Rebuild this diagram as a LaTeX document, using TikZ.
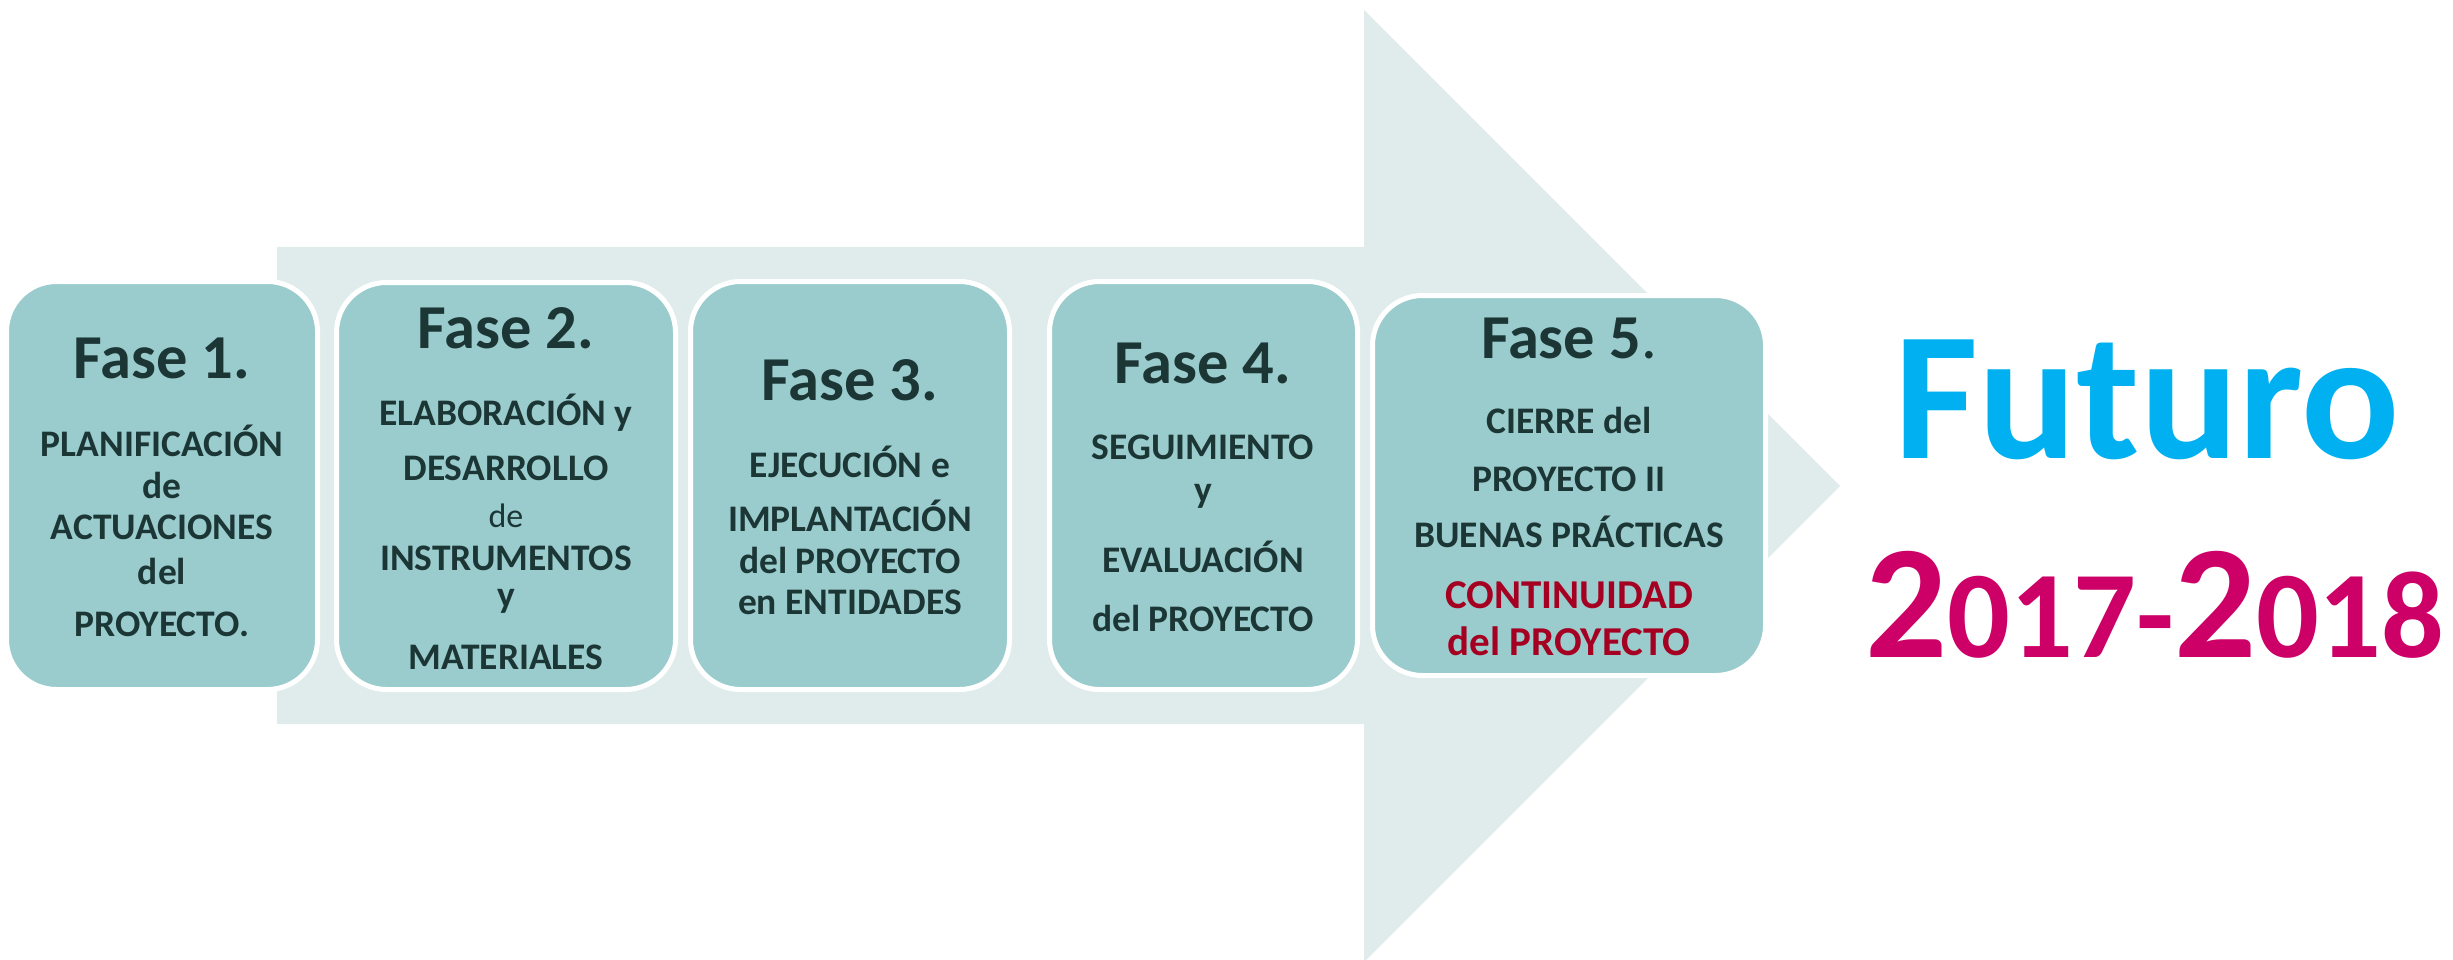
\documentclass[tikz,border=0pt]{standalone}
\usepackage{fontspec}
\setmainfont{Carlito}
\definecolor{shaftc}{RGB}{223,236,235}
\definecolor{boxc}{RGB}{154,204,205}
\definecolor{txtc}{RGB}{28,54,54}
\definecolor{futc}{RGB}{0,176,240}
\definecolor{yearc}{RGB}{204,0,102}
\definecolor{redc}{RGB}{165,0,33}
\tikzset{
  phasebox/.style={draw=white, line width=5pt, fill=boxc, rounded corners=50pt, inner sep=0pt},
  ttl/.style={anchor=base, inner sep=0pt, text=txtc, font=\fontsize{62.5}{62.5}\selectfont\bfseries},
  ln/.style={anchor=base, inner sep=0pt, text=txtc, font=\fontsize{37.5}{37.5}\selectfont\bfseries},
  lnr/.style={anchor=base, inner sep=0pt, text=txtc, font=\fontsize{34}{34}\selectfont},
  lnred/.style={anchor=base, inner sep=0pt, text=redc, font=\fontsize{41}{41}\selectfont\bfseries},
}
\begin{document}
\begin{tikzpicture}[x=1pt,y=-1pt]
\useasboundingbox (0,0) rectangle (2453,960);
% big arrow
\fill[shaftc] (277,247) -- (1364,247) -- (1364,10) -- (1840,486) -- (1366,960) -- (1364,960) -- (1364,724) -- (277,724) -- cycle;
% boxes
\node[phasebox, minimum width=311pt, minimum height=408pt] (b1) at (162,485.5) {};
\node[phasebox, minimum width=339pt, minimum height=407pt] (b2) at (506,486) {};
\node[phasebox, minimum width=319pt, minimum height=408pt] (b3) at (850,485.5) {};
\node[phasebox, minimum width=308pt, minimum height=408pt] (b4) at (1203.5,485.5) {};
\node[phasebox, minimum width=393pt, minimum height=380pt] (b5) at (1569,485.5) {};
% box 1
\node[ttl] (t1a) at (162,378) {Fase 1.};
\node[ln] (t1b) at (162,456) {PLANIFICACIÓN};
\node[ln] (t1c) at (162,498) {de};
\node[ln] (t1d) at (162,539) {ACTUACIONES};
\node[ln] (t1e) at (162,584) {del};
\node[ln] (t1f) at (162,636) {PROYECTO.};
% box 2
\node[ttl] (t2a) at (506,348) {Fase 2.};
\node[ln] (t2b) at (506,425) {ELABORACIÓN y};
\node[ln] (t2c) at (506,480) {DESARROLLO};
\node[lnr] (t2d) at (506,527) {de};
\node[ln] (t2e) at (506,570) {INSTRUMENTOS};
\node[ln] (t2f) at (506,607) {y};
\node[ln] (t2g) at (506,669) {MATERIALES};
% box 3
\node[ttl] (t3a) at (850,400) {Fase 3.};
\node[ln] (t3b) at (850,477) {EJECUCIÓN e};
\node[ln] (t3c) at (850,531) {IMPLANTACIÓN};
\node[ln] (t3d) at (850,573) {del PROYECTO};
\node[ln] (t3e) at (850,614) {en ENTIDADES};
% box 4
\node[ttl] (t4a) at (1203,383) {Fase 4.};
\node[ln] (t4b) at (1203,459) {SEGUIMIENTO};
\node[ln] (t4c) at (1203,502) {y};
\node[ln] (t4d) at (1203,572) {EVALUACIÓN};
\node[ln] (t4e) at (1203,631) {del PROYECTO};
% box 5
\node[ttl] (t5a) at (1569,358) {Fase 5{\mdseries .}};
\node[ln] (t5b) at (1569,433) {CIERRE del};
\node[ln] (t5c) at (1569,491) {PROYECTO II};
\node[ln] (t5d) at (1569,547) {BUENAS PRÁCTICAS};
\node[lnred] (t5e) at (1569,608) {CONTINUIDAD};
\node[lnred] (t5f) at (1569,655) {del PROYECTO};
% right texts
\node[anchor=base, inner sep=0pt, text=futc, font=\fontsize{183}{183}\selectfont\bfseries] (fut) at (2147,458) {Futuro};
\node[anchor=base, inner sep=0pt, text=yearc, font=\bfseries] (yr) at (2155,657) {\fontsize{162}{162}\selectfont 2\fontsize{124}{124}\selectfont 017-\fontsize{162}{162}\selectfont 2\fontsize{124}{124}\selectfont 018};
\end{tikzpicture}
\end{document}
